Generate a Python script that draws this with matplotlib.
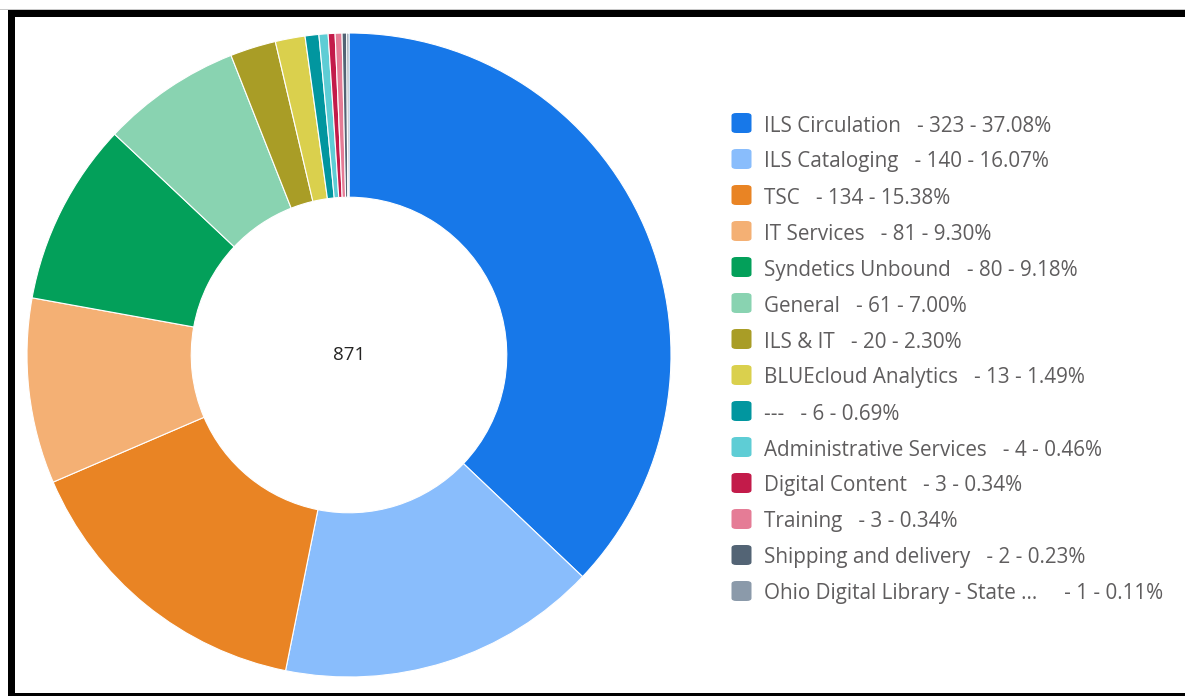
import matplotlib
matplotlib.use("Agg")
import matplotlib.pyplot as plt
from matplotlib.patches import Rectangle, FancyBboxPatch

categories = [
    "ILS Circulation", "ILS Cataloging", "TSC", "IT Services", "Syndetics Unbound",
    "General", "ILS & IT", "BLUEcloud Analytics", "---", "Administrative Services",
    "Digital Content", "Training", "Shipping and delivery", "Ohio Digital Library - State ...",
]
counts = [323, 140, 134, 81, 80, 61, 20, 13, 6, 4, 3, 3, 2, 1]
colors = [
    "#1778e9", "#89bdfc", "#e98424", "#f4b074", "#03a05a", "#89d3b1", "#a99d26",
    "#dad04d", "#01969f", "#5ecdd5", "#c31b4a", "#e57c96", "#536475", "#8b9aaa",
]
total = sum(counts)

W, H = 1185, 696
fig = plt.figure(figsize=(W / 100, H / 100), dpi=100)
fig.patch.set_facecolor("white")

# donut: centre ~(349, 355) px, radius ~322 px
cx, cy, r = 349, 355, 322
ax = fig.add_axes([(cx - r) / W, (H - cy - r) / H, 2 * r / W, 2 * r / H])
ax.pie(counts, colors=colors, startangle=90, counterclock=False, radius=1,
       wedgeprops=dict(width=0.51, edgecolor="white", linewidth=0.8))
ax.set_xlim(-1, 1)
ax.set_ylim(-1, 1)
ax.set_aspect("equal")
ax.axis("off")
ax.text(0, 0, str(total), ha="center", va="center", fontsize=13.5,
        color="#252423", family="Open Sans")

# legend drawn by hand to match the report layout
x_box, x_txt = 731, 764
y0, dy = 123, 36.0
for i, (lab, val, col) in enumerate(zip(categories, counts, colors)):
    y = y0 + i * dy
    box = FancyBboxPatch(((x_box + 0.5) / W, 1 - (y + 10) / H), 20 / W, 20 / H,
                         boxstyle="round,pad=0,rounding_size=0.004",
                         transform=fig.transFigure, facecolor=col, edgecolor="none")
    fig.add_artist(box)
    gap = "     " if lab.endswith("...") else "   "
    fig.text(x_txt / W, 1 - (y + 3) / H, f"{lab}{gap}- {val} - {val / total * 100:.2f}%",
             ha="left", va="center", fontsize=14.9, color="#5f5d5e", family="Open Sans")

# black frame around the visual
fig.add_artist(Rectangle((0, 1 - 10 / H), 1, 1 / H, transform=fig.transFigure,
                         facecolor="#c8c8c8", edgecolor="none"))
fig.add_artist(Rectangle((8 / W, 1 - 17 / H), 1, 7 / H, transform=fig.transFigure,
                         facecolor="black", edgecolor="none"))
fig.add_artist(Rectangle((8 / W, 0), 7 / W, 1 - 10 / H, transform=fig.transFigure,
                         facecolor="black", edgecolor="none"))
fig.add_artist(Rectangle((8 / W, 0), 1, 3 / H, transform=fig.transFigure,
                         facecolor="black", edgecolor="none"))

fig.savefig("out.png", dpi=100)
